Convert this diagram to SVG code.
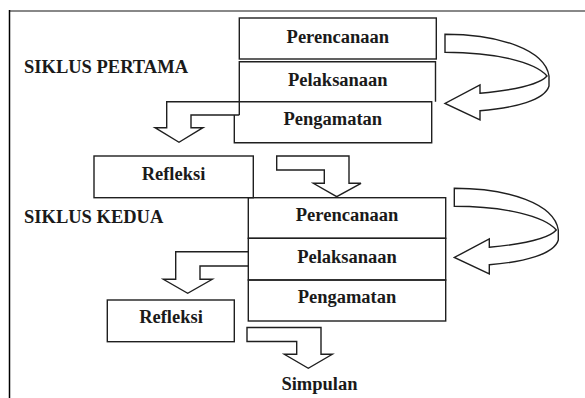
<svg xmlns="http://www.w3.org/2000/svg" xmlns:xlink="http://www.w3.org/1999/xlink" width="585" height="398" viewBox="0 0 585 398">
  <style>
    .box { fill: none; stroke: #1f1f1f; stroke-width: 1.4; }
    .conn { fill: #ffffff; stroke: #1f1f1f; stroke-width: 1.4; stroke-linejoin: miter; }
    .lbl { font-family: "Liberation Serif", "Times New Roman", serif; font-weight: bold; font-size: 18.5px; fill: #1a1a1a; }
    .mid { text-anchor: middle; }
  </style>
  <defs>
    <path id="uturn" d="M445,34.3 C500,34.3 545,50 549,76 L549,86 C545,100 515,108 480,110.7 L480,120 L445,103.5 L480,85 L480,93.3 C515,90 540,84 547,76 C535,62 495,52.3 445,52.3 Z"/>
  </defs>
  <rect width="585" height="398" fill="#ffffff"/>
  <!-- frame -->
  <line x1="9" y1="11" x2="585" y2="11" stroke="#888888" stroke-width="2"/>
  <line x1="9.5" y1="10" x2="9.5" y2="398" stroke="#000000" stroke-width="1.5"/>

  <text class="lbl" x="24" y="72.7">SIKLUS PERTAMA</text>
  <text class="lbl" x="24" y="222.7">SIKLUS KEDUA</text>

  <g id="connectors">
    <path class="conn" d="M239.3,101.7 H166.7 V127.7 H155 L179,142.3 L203,127.7 H191 V115 H239.3"/>
    <path class="conn" d="M276.7,156 H349 V183.3 H361 L336.7,196.7 L313.3,183.3 H324.3 V170 H276.7 Z"/>
    <path class="conn" d="M248.3,251.7 H175.7 V279.3 H163.3 L187.7,293.3 L212.3,279.3 H200 V266 H248.3"/>
    <path class="conn" d="M247,327.5 H321 V354.3 H332.3 L308.3,368.3 L284.3,354.3 H296.7 V341.5 H247 Z"/>
    <use xlink:href="#uturn" class="conn"/>
    <use xlink:href="#uturn" class="conn" transform="translate(9.3,154)"/>
  </g>

  <g id="perencanaan1">
    <rect class="box" x="239.3" y="18" width="197" height="41"/>
    <text class="lbl mid" x="337.8" y="42.7">Perencanaan</text>
  </g>
  <g id="pelaksanaan1">
    <path class="box" d="M239.3,115 V61.7 H435.5 V101.7"/>
    <text class="lbl mid" x="337.8" y="86">Pelaksanaan</text>
  </g>
  <g id="pengamatan1">
    <path class="box" d="M239.3,101.7 H431.7 V142.7 H234.3 V115"/>
    <text class="lbl mid" x="332.8" y="125">Pengamatan</text>
  </g>
  <g id="refleksi1">
    <rect class="box" x="94" y="156" width="159.3" height="41.7"/>
    <text class="lbl mid" x="173.5" y="180">Refleksi</text>
  </g>

  <g id="perencanaan2">
    <rect class="box" x="248.3" y="197.7" width="197.4" height="40.6"/>
    <text class="lbl mid" x="347" y="220.7">Perencanaan</text>
  </g>
  <g id="pelaksanaan2">
    <rect class="box" x="248.3" y="238.3" width="197.4" height="41.7"/>
    <text class="lbl mid" x="347" y="262.7">Pelaksanaan</text>
  </g>
  <g id="pengamatan2">
    <rect class="box" x="248.3" y="280" width="197.4" height="41"/>
    <text class="lbl mid" x="347" y="303.3">Pengamatan</text>
  </g>
  <g id="refleksi2">
    <rect class="box" x="107.3" y="300" width="127" height="41.7"/>
    <text class="lbl mid" x="171" y="323.3">Refleksi</text>
  </g>
  <g id="simpulan">
    <text class="lbl mid" x="319.5" y="390">Simpulan</text>
  </g>
</svg>
